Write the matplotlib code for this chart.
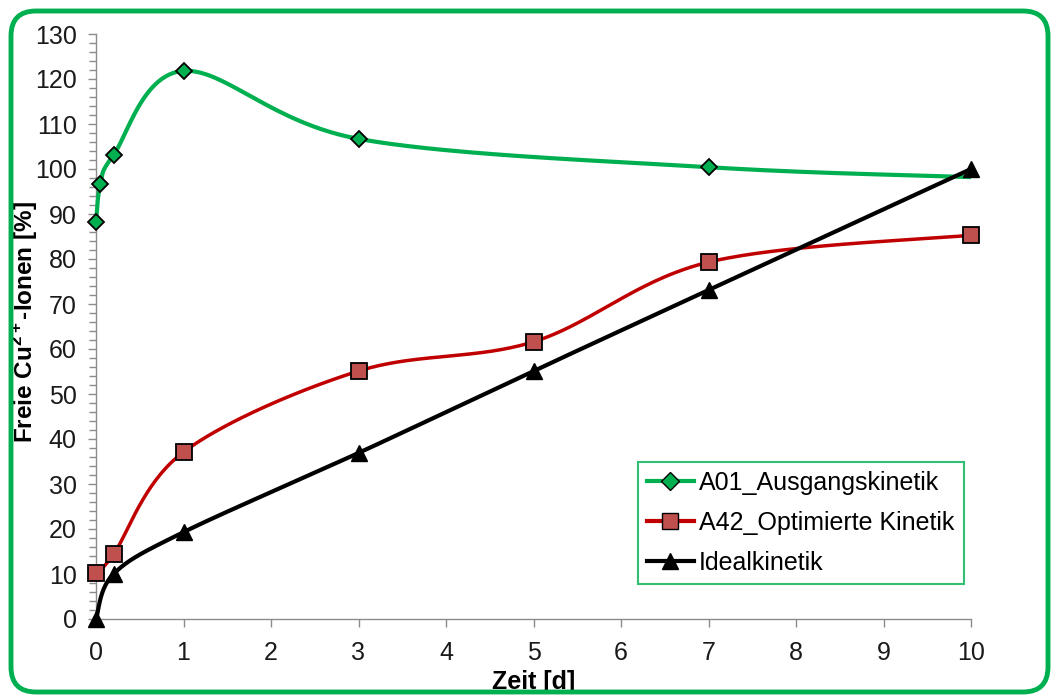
import numpy as np
import matplotlib
matplotlib.use("Agg")
import matplotlib.pyplot as plt
from matplotlib.lines import Line2D
from matplotlib.patches import FancyBboxPatch

plt.rcParams['font.family'] = ['Liberation Sans', 'DejaVu Sans']
plt.rcParams['mathtext.fontset'] = 'custom'
plt.rcParams['mathtext.rm'] = 'Liberation Sans'
plt.rcParams['mathtext.bf'] = 'Liberation Sans:bold'

# ---- data ----
x_a01 = [0, 0.05, 0.2, 1, 3, 7, 10]
y_a01 = [88.2, 96.7, 103.1, 121.8, 106.7, 100.4, 98.2]

x_a42 = [0, 0.2, 1, 3, 5, 7, 10]
y_a42 = [10.2, 14.4, 37.1, 55.1, 61.6, 79.3, 85.3]

x_ideal = [0, 0.2, 1, 3, 5, 7, 10]
y_ideal = [0, 10, 19.3, 36.9, 55.1, 73.1, 100]

labels = ["A01_Ausgangskinetik", "A42_Optimierte Kinetik", "Idealkinetik"]
xticks = list(range(0, 11))
yticks = list(range(0, 131, 10))

# ---- figure ----
W, H = 1052, 697
fig = plt.figure(figsize=(W / 100, H / 100), dpi=100)
ax = fig.add_axes([96 / W, (H - 619) / H, (971 - 96) / W, (619 - 34) / H])
ax.set_xlim(0, 10)
ax.set_ylim(0, 130)


def smooth(xs, ys, n=60):
    pts = ax.transData.transform(np.column_stack([xs, ys]))
    out = []
    m = len(pts)
    for i in range(m - 1):
        p0 = pts[i - 1] if i > 0 else pts[i]
        p1 = pts[i]
        p2 = pts[i + 1]
        p3 = pts[i + 2] if i + 2 < m else pts[i + 1]
        c1 = p1 + (p2 - p0) / 6.0
        c2 = p2 - (p3 - p1) / 6.0
        t = np.linspace(0, 1, n)[:, None]
        seg = ((1 - t) ** 3) * p1 + 3 * ((1 - t) ** 2) * t * c1 + 3 * (1 - t) * t ** 2 * c2 + t ** 3 * p2
        out.append(seg if i == 0 else seg[1:])
    out = np.vstack(out)
    d = ax.transData.inverted().transform(out)
    return d[:, 0], d[:, 1]


green = '#00B050'
red_line = '#C00000'
red_face = '#C0504D'

sx, sy = smooth(x_a01, y_a01)
ax.plot(sx, sy, color=green, lw=3.0, zorder=3, solid_capstyle='butt', clip_on=False)
ax.plot(x_a01[:-1], y_a01[:-1], ls='none', marker='D', ms=8.5, mfc=green,
        mec='black', mew=1.3, zorder=6, clip_on=False)

sx, sy = smooth(x_a42, y_a42)
ax.plot(sx, sy, color=red_line, lw=2.5, zorder=4, solid_capstyle='butt', clip_on=False)
ax.plot(x_a42, y_a42, ls='none', marker='s', ms=11, mfc=red_face,
        mec='black', mew=1.3, zorder=7, clip_on=False)

sx, sy = smooth(x_ideal, y_ideal)
ax.plot(sx, sy, color='black', lw=3.0, zorder=5, solid_capstyle='butt', clip_on=False)
ax.plot(x_ideal, y_ideal, ls='none', marker='^', ms=12, mfc='black',
        mec='black', mew=1, zorder=8, clip_on=False)

# axes styling
for s in ['top', 'right']:
    ax.spines[s].set_visible(False)
for s in ['left', 'bottom']:
    ax.spines[s].set_color('#8C8C8C')
    ax.spines[s].set_linewidth(1.0)
ax.set_xticks(xticks)
ax.set_yticks(yticks)
ax.set_yticks(np.arange(0, 131, 2), minor=True)
ax.tick_params(axis='both', which='major', direction='out', length=6, width=1,
               color='#8C8C8C', labelsize=18, labelcolor='#1a1a1a')
ax.tick_params(axis='y', which='minor', direction='out', length=5, width=1, color='#8C8C8C')
ax.tick_params(axis='y', which='major', pad=8)
ax.tick_params(axis='x', which='major', pad=10)

ax.set_xlabel('Zeit [d]', fontsize=18, fontweight='bold')
ax.set_ylabel(r'Freie Cu$^{\mathbf{2+}}$-Ionen [%]', fontsize=17.5, fontweight='bold')
ax.xaxis.label.set_verticalalignment('center')
ax.xaxis.set_label_coords(0.5, (619 - 682) / 585)
ax.yaxis.label.set_verticalalignment('center')
ax.yaxis.set_label_coords((25 - 96) / 875, (619 - 322) / 585)

handles = [
    Line2D([], [], color=green, lw=3, marker='D', ms=9, mfc=green, mec='black', mew=1.0),
    Line2D([], [], color=red_line, lw=3, marker='s', ms=12, mfc=red_face, mec='black', mew=1.0),
    Line2D([], [], color='black', lw=3, marker='^', ms=12, mfc='black', mec='black'),
]
leg = ax.legend(handles, labels, loc='upper left', bbox_to_anchor=(0.619, 0.268),
                fontsize=18, frameon=True, fancybox=False, handlelength=1.9,
                handletextpad=0.2, borderpad=0.36, labelspacing=0.64, borderaxespad=0)
leg.get_frame().set_edgecolor(green)
leg.get_frame().set_linewidth(1.5)
leg.set_zorder(10)

# rounded green border around the chart
border = FancyBboxPatch((0.11, 0.05), 10.37, 6.81, boxstyle='round,pad=0,rounding_size=0.25',
                        transform=fig.dpi_scale_trans, fill=False, edgecolor=green, lw=3.5,
                        zorder=0)
fig.patches.append(border)

fig.savefig('out.png', dpi=100)
